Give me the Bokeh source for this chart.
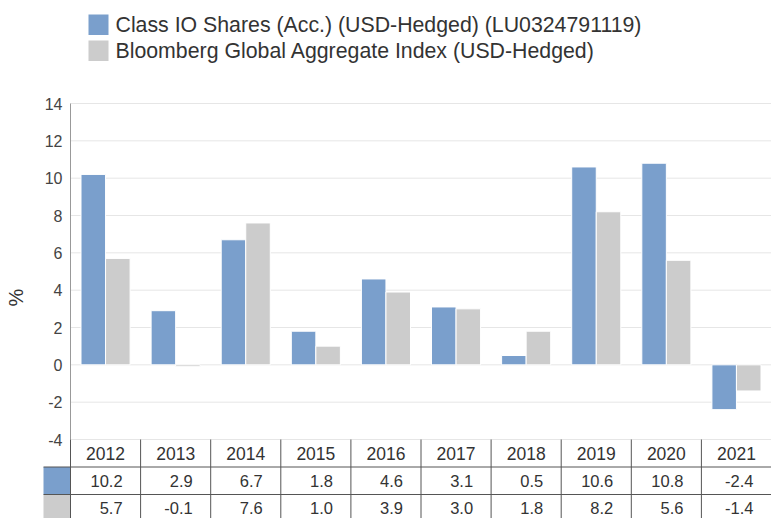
import math
from bokeh.plotting import figure
from bokeh.models import ColumnDataSource, Range1d
from bokeh.embed import file_html
from bokeh.resources import INLINE
from bokeh.core.properties import value

# ---------------- data ----------------
years = ["2012", "2013", "2014", "2015", "2016", "2017", "2018", "2019", "2020", "2021"]
fund = [10.2, 2.9, 6.7, 1.8, 4.6, 3.1, 0.5, 10.6, 10.8, -2.4]
index = [5.7, -0.1, 7.6, 1.0, 3.9, 3.0, 1.8, 8.2, 5.6, -1.4]
series_names = ["Class IO Shares (Acc.) (USD-Hedged) (LU0324791119)",
                "Bloomberg Global Aggregate Index (USD-Hedged)"]
y_ticks = [-4, -2, 0, 2, 4, 6, 8, 10, 12, 14]
y_label = "%"

# ---------------- layout / styles ----------------
BLUE = "#7a9fcc"
GREY = "#cccccc"
FONT = "Liberation Sans"
TXT = "#333333"
W, H = 771, 518
LEFT = 70            # plot area left edge (px)
TOP = 103            # plot area top edge (px)
BOTTOM = 439         # plot area bottom edge (px)
n = len(years)
COL_W = (W - LEFT) / n
PX_PER_UNIT = (BOTTOM - TOP) / (y_ticks[-1] - y_ticks[0])
ZERO_PX = TOP + y_ticks[-1] * PX_PER_UNIT


def xd(px):
    """screen x (px from left) -> data x (category units)"""
    return (px - LEFT) / COL_W


def yd(py):
    """screen y (px from top) -> data y (value units)"""
    return (ZERO_PX - py) / PX_PER_UNIT


p = figure(width=W, height=H,
           x_range=Range1d(xd(0), xd(W)), y_range=Range1d(yd(H), yd(0)),
           x_axis_location=None, y_axis_location=None,
           output_backend="svg", toolbar_location=None, min_border=0)
p.outline_line_color = None
p.grid.visible = False
p.background_fill_color = "white"

# grid lines and axis line
p.segment(x0=[0] * len(y_ticks), y0=y_ticks, x1=[n] * len(y_ticks), y1=y_ticks,
          line_color="#e6e6e6", line_width=1)
p.segment(x0=[0], y0=[y_ticks[0]], x1=[0], y1=[y_ticks[-1]],
          line_color="#999999", line_width=1)
p.text(x=[xd(62)] * len(y_ticks), y=y_ticks, text=[str(t) for t in y_ticks],
       text_align="right", text_baseline="middle", text_font=value(FONT),
       text_font_size="16px", text_color="#444444")
p.text(x=[xd(15)], y=[yd(297)], text=[y_label], angle=math.pi / 2,
       text_align="center", text_baseline="middle", text_font=value(FONT),
       text_font_size="20px", text_color=TXT)

# bars
centers = [i + 0.5 for i in range(n)]
src = ColumnDataSource(dict(
    x1=[c - 0.175 for c in centers], x2=[c + 0.175 for c in centers],
    fund=fund, index=index))
p.vbar(x="x1", top="fund", bottom=0, width=0.35, source=src,
       fill_color=BLUE, line_color="white", line_width=1)
p.vbar(x="x2", top="index", bottom=0, width=0.35, source=src,
       fill_color=GREY, line_color="white", line_width=1)

# legend
p.quad(left=[xd(88)] * 2, right=[xd(108)] * 2,
       top=[yd(14), yd(40)], bottom=[yd(34.5), yd(60.5)],
       fill_color=[BLUE, GREY], line_color=None)
p.text(x=[xd(115)] * 2, y=[yd(24.5), yd(50.5)], text=series_names,
       text_align="left", text_baseline="middle", text_font=value(FONT),
       text_font_size="21.3px", text_color=TXT)

# data table
ROW_H = 27.5
row_top = [BOTTOM + k * ROW_H for k in range(4)]
sw_left = xd(43)
p.quad(left=[sw_left, sw_left], right=[0, 0],
       top=[yd(row_top[1]), yd(row_top[2])], bottom=[yd(row_top[2]), yd(row_top[3])],
       fill_color=[BLUE, GREY], line_color=None)
p.segment(x0=list(range(n)), y0=[yd(BOTTOM)] * n, x1=list(range(n)), y1=[yd(H)] * n,
          line_color="#555555", line_width=1)
p.segment(x0=[sw_left, sw_left], y0=[yd(row_top[1]), yd(row_top[2])],
          x1=[n, n], y1=[yd(row_top[1]), yd(row_top[2])],
          line_color="#555555", line_width=1)

xs_right = [i + 1 - 18 / COL_W for i in range(n)]
p.text(x=centers, y=[yd(row_top[0] + ROW_H / 2)] * n, text=years,
       text_align="center", text_baseline="middle", text_font=value(FONT),
       text_font_size="17.5px", text_color=TXT)
p.text(x=xs_right, y=[yd(row_top[1] + ROW_H / 2)] * n, text=[f"{v:.1f}" for v in fund],
       text_align="right", text_baseline="middle", text_font=value(FONT),
       text_font_size="16.5px", text_color=TXT)
p.text(x=xs_right, y=[yd(row_top[2] + ROW_H / 2)] * n, text=[f"{v:.1f}" for v in index],
       text_align="right", text_baseline="middle", text_font=value(FONT),
       text_font_size="16.5px", text_color=TXT)

open("out.html", "w").write(file_html(p, INLINE))
